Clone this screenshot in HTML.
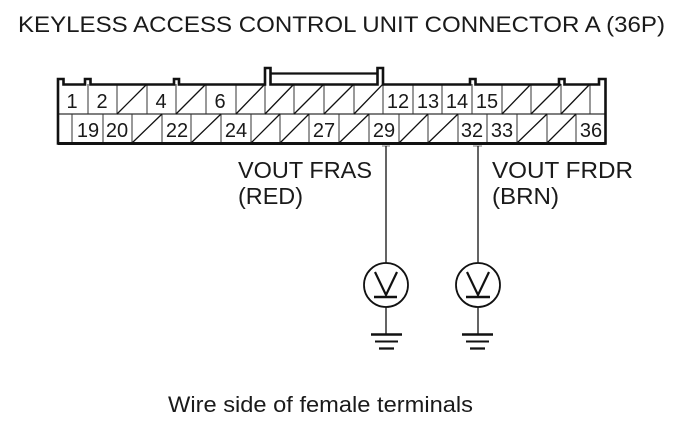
<!DOCTYPE html>
<html><head><meta charset="utf-8"><style>
html,body{margin:0;padding:0;background:#fff}
svg{display:block}
text{font-family:"Liberation Sans",sans-serif;fill:#1a1a1a}
.n{font-size:20px;text-anchor:middle}
.l{font-size:23px}
</style></head><body>
<svg width="678" height="422" viewBox="0 0 678 422" xmlns="http://www.w3.org/2000/svg">
<rect width="678" height="422" fill="#fff"/>
<text x="18" y="32" font-size="22.5" textLength="647" lengthAdjust="spacingAndGlyphs">KEYLESS ACCESS CONTROL UNIT CONNECTOR A (36P)</text>

<!-- grid -->
<g stroke="#333" stroke-width="1" fill="none">
<path d="M88 84V114M117 84V114M147 84V114M176 84V114M206 84V114M236 84V114M265 84V114M294 84V114M324 84V114M354 84V114M383 84V114M413 84V114M442 84V114M472 84V114M502 84V114M531 84V114M561 84V114M590 84V114"/>
<path d="M72 114V143M103 114V143M132 114V143M162 114V143M191 114V143M221 114V143M251 114V143M280 114V143M309 114V143M339 114V143M369 114V143M399 114V143M428 114V143M458 114V143M487 114V143M517 114V143M547 114V143M576 114V143"/>
<path d="M57 114H606" stroke-width="1.2"/>
</g>
<!-- diagonals -->
<g stroke="#111" stroke-width="1.3" fill="none">
<path d="M117 114L147 84M176 114L206 84M236 114L265 84M265 114L294 84M294 114L324 84M324 114L354 84M354 114L383 84M502 114L531 84M531 114L561 84M561 114L590 84"/>
<path d="M132 143L162 114M191 143L221 114M251 143L280 114M280 143L309 114M339 143L369 114M399 143L428 114M428 143L458 114M517 143L547 114M547 143L576 114"/>
</g>
<!-- outer with tabs -->
<path d="M58 143.500V79H63.500V84.500H85V79H90.500V84.500H174V79H179V84.500H265V68H270.500V84.500H377.500V68H383V84.500H470V79H475.500V84.500H559V79H564.500V84.500H599V79H605.500V143.500H58Z" fill="none" stroke="#111" stroke-width="2.600"/>
<path d="M270 73.500H378" fill="none" stroke="#111" stroke-width="2.200"/>
<path d="M58 143.500H605.500" stroke="#111" stroke-width="3"/>

<!-- numbers -->
<g class="nums">
<text class="n" x="72" y="108">1</text>
<text class="n" x="102" y="108">2</text>
<text class="n" x="161" y="108">4</text>
<text class="n" x="220" y="108">6</text>
<text class="n" x="398" y="108">12</text>
<text class="n" x="428" y="108">13</text>
<text class="n" x="457" y="108">14</text>
<text class="n" x="487" y="108">15</text>
<text class="n" x="88" y="137">19</text>
<text class="n" x="117" y="137">20</text>
<text class="n" x="177" y="137">22</text>
<text class="n" x="236" y="137">24</text>
<text class="n" x="324" y="137">27</text>
<text class="n" x="384" y="137">29</text>
<text class="n" x="472" y="137">32</text>
<text class="n" x="502" y="137">33</text>
<text class="n" x="591" y="137">36</text>
</g>

<!-- grey marks -->
<rect x="382" y="145" width="8" height="2" fill="#bbb"/>
<rect x="473" y="145" width="9" height="2" fill="#bbb"/>

<!-- labels -->
<text class="l" x="238" y="178" textLength="134" lengthAdjust="spacingAndGlyphs">VOUT FRAS</text>
<text class="l" x="238" y="204" textLength="65" lengthAdjust="spacingAndGlyphs">(RED)</text>
<text class="l" x="492" y="178" textLength="141" lengthAdjust="spacingAndGlyphs">VOUT FRDR</text>
<text class="l" x="492" y="204" textLength="67" lengthAdjust="spacingAndGlyphs">(BRN)</text>

<!-- probes -->
<g stroke="#111" fill="none">
<path d="M386 146V263M386 307V334M478 146V263M478 307V334" stroke-width="1.300"/>
<circle cx="386" cy="285" r="22" stroke-width="1.800"/>
<circle cx="478" cy="285" r="22" stroke-width="1.800"/>
<path d="M375 272L386 295L397 272" stroke-width="2.200"/>
<path d="M467 272L478 295L489 272" stroke-width="2.200"/>
<path d="M374 297H397M466 297H490" stroke-width="2.400"/>
<path d="M371 334.500H402M462 334.500H493" stroke-width="2.400"/>
<path d="M375 341.500H398M466 341.500H489" stroke-width="2"/>
<path d="M379 348.500H394M470 348.500H485" stroke-width="2.200"/>
</g>

<text x="168" y="412" font-size="22" textLength="305" lengthAdjust="spacingAndGlyphs">Wire side of female terminals</text>
</svg>
</body></html>
